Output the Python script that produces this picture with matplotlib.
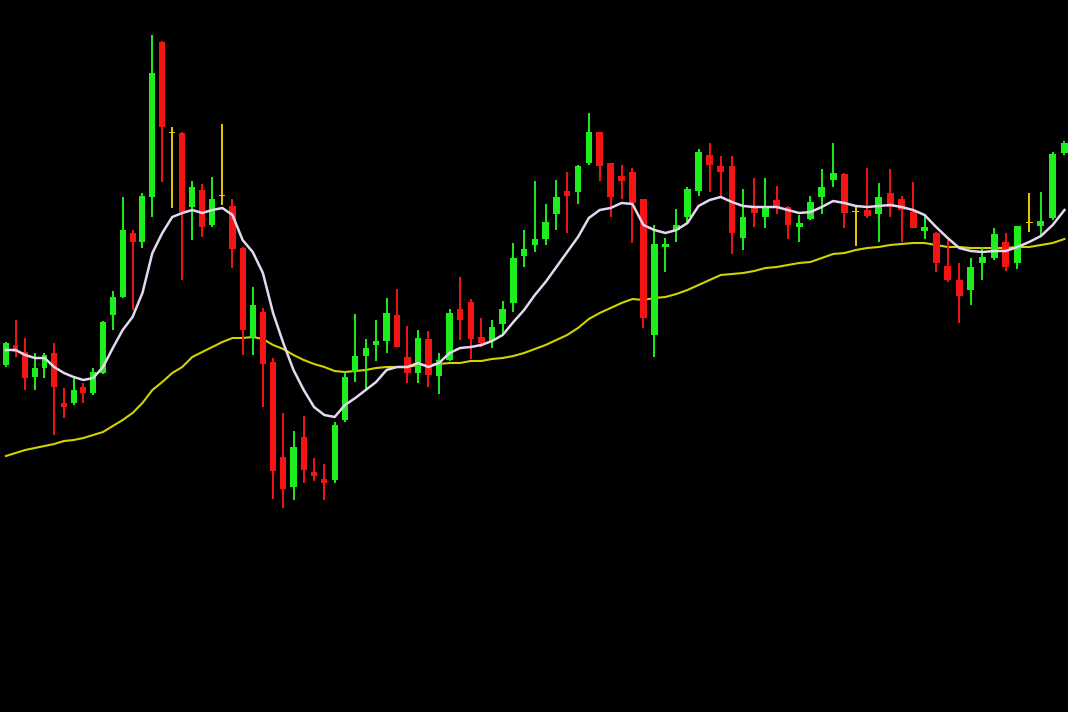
import numpy as np
import matplotlib.pyplot as plt

# price values (arbitrary units, higher = up)
opens = [347, 367, 360, 335, 344, 359, 309, 309, 325, 319,
         339, 397, 415, 479, 470, 515, 670, 579, 579, 505,
         522, 487, 516, 506, 464, 375, 400, 350, 255, 225,
         275, 240, 233, 232, 292, 340, 356, 367, 371, 397,
         355, 339, 373, 336, 352, 403, 410, 375, 371, 388,
         409, 456, 467, 473, 498, 521, 520, 549, 580, 549,
         536, 540, 513, 377, 465, 482, 495, 521, 557, 546,
         546, 474, 506, 495, 512, 505, 485, 493, 515, 532,
         538, 500, 502, 498, 519, 513, 500, 481, 479, 446,
         432, 422, 449, 454, 470, 449, 489, 486, 494, 559]
closes = [369, 360, 334, 344, 357, 325, 305, 322, 319, 340,
          390, 415, 482, 470, 516, 639, 585, 579, 500, 525,
          485, 513, 516, 463, 382, 407, 348, 241, 223, 265,
          242, 236, 229, 287, 335, 356, 364, 371, 399, 365,
          339, 374, 337, 352, 399, 392, 373, 369, 385, 403,
          454, 463, 473, 490, 515, 516, 546, 580, 546, 515,
          531, 509, 394, 468, 468, 487, 523, 560, 547, 540,
          479, 495, 499, 506, 505, 487, 489, 510, 525, 539,
          499, 500, 496, 515, 505, 502, 484, 485, 449, 432,
          416, 445, 455, 478, 445, 486, 489, 491, 558, 569]
highs = [370, 392, 374, 359, 359, 369, 324, 334, 329, 344,
         391, 421, 515, 482, 519, 677, 671, 585, 580, 531,
         528, 535, 588, 513, 465, 425, 404, 354, 299, 281,
         296, 254, 248, 290, 340, 398, 373, 392, 414, 423,
         386, 382, 381, 359, 403, 435, 413, 394, 392, 411,
         469, 482, 531, 508, 532, 540, 547, 599, 580, 549,
         547, 544, 513, 487, 474, 503, 525, 563, 569, 556,
         556, 523, 534, 534, 526, 506, 497, 516, 543, 569,
         539, 505, 544, 529, 543, 516, 530, 497, 480, 472,
         449, 454, 465, 484, 479, 486, 519, 520, 560, 571]
lows = [345, 355, 322, 322, 334, 277, 294, 307, 309, 317,
        338, 382, 414, 402, 464, 495, 530, 504, 432, 472,
        475, 485, 507, 444, 357, 357, 305, 213, 204, 212,
        229, 231, 212, 229, 290, 330, 322, 351, 359, 365,
        329, 329, 325, 318, 351, 372, 353, 365, 364, 378,
        400, 445, 460, 467, 482, 479, 508, 547, 531, 495,
        513, 469, 384, 355, 440, 470, 489, 516, 520, 516,
        458, 462, 485, 484, 498, 473, 470, 492, 498, 525,
        484, 466, 494, 470, 495, 470, 484, 473, 440, 430,
        389, 407, 432, 452, 441, 443, 480, 475, 492, 557]

# fast (white) and slow (yellow) moving averages, read per candle
ma_fast = [362, 362, 357, 354, 354, 345, 339, 335, 332, 334,
           345, 364, 382, 395, 419, 459, 479, 495, 499, 502,
           499, 502, 504, 497, 472, 460, 439, 399, 369, 342,
           322, 305, 297, 295, 307, 314, 322, 330, 342, 345,
           345, 349, 345, 349, 359, 364, 365, 367, 371, 377,
           390, 402, 417, 430, 445, 460, 475, 494, 502, 504,
           509, 508, 487, 482, 479, 482, 489, 506, 512, 515,
           510, 506, 505, 505, 505, 502, 499, 500, 505, 511,
           509, 506, 505, 506, 507, 505, 502, 497, 485, 474,
           464, 461, 460, 461, 461, 465, 470, 476, 487, 502]
ma_slow = [256, 259, 262, 264, 266, 268, 271, 272, 274, 277,
           280, 286, 292, 299, 309, 322, 330, 339, 345, 355,
           360, 365, 370, 374, 374, 375, 373, 367, 363, 357,
           352, 348, 345, 341, 340, 341, 342, 344, 345, 345,
           345, 347, 347, 348, 349, 349, 351, 351, 353, 354,
           356, 359, 363, 367, 372, 377, 384, 393, 399, 404,
           409, 413, 412, 414, 415, 418, 422, 427, 432, 437,
           438, 439, 441, 444, 445, 447, 449, 450, 454, 458,
           459, 462, 464, 465, 467, 468, 469, 469, 467, 465,
           465, 464, 464, 464, 464, 465, 465, 467, 469, 473]

up_color = '#1eee1e'
down_color = '#f51414'
doji_color = '#e6c800'

opens = np.array(opens)
closes = np.array(closes)
highs = np.array(highs)
lows = np.array(lows)
idx = np.arange(len(opens))

colors = np.where(closes > opens, up_color,
                  np.where(closes < opens, down_color, doji_color))

# the screenshot spacing widens slightly to the right
k = 0.001156


def forward(x):
    return x + k * x**2


def inverse(f):
    return (-1 + np.sqrt(np.clip(1 + 4 * k * f, 0, None))) / (2 * k)


fig = plt.figure(figsize=(10.68, 7.12), dpi=100, facecolor='black')
ax = fig.add_axes([0, 0, 1, 1])
ax.set_facecolor('black')
ax.set_xscale('function', functions=(forward, inverse))

ax.plot(idx, ma_slow, color='#d2d200', lw=1.5, zorder=1)

ax.vlines(idx, lows, highs, colors=colors, lw=1.4, zorder=2)
bottoms = np.minimum(opens, closes)
heights = np.maximum(np.abs(closes - opens), 1.5)
ax.bar(idx, heights, bottom=bottoms, width=0.6, color=colors,
       edgecolor='none', zorder=3)

ax.plot(idx, ma_fast, color='#e6d7f0', lw=1.8, zorder=4)

ax.set_xlim(-0.62, 99.3)
ax.set_ylim(0, 712)
ax.axis('off')

plt.savefig('out.png', dpi=100, facecolor='black')
